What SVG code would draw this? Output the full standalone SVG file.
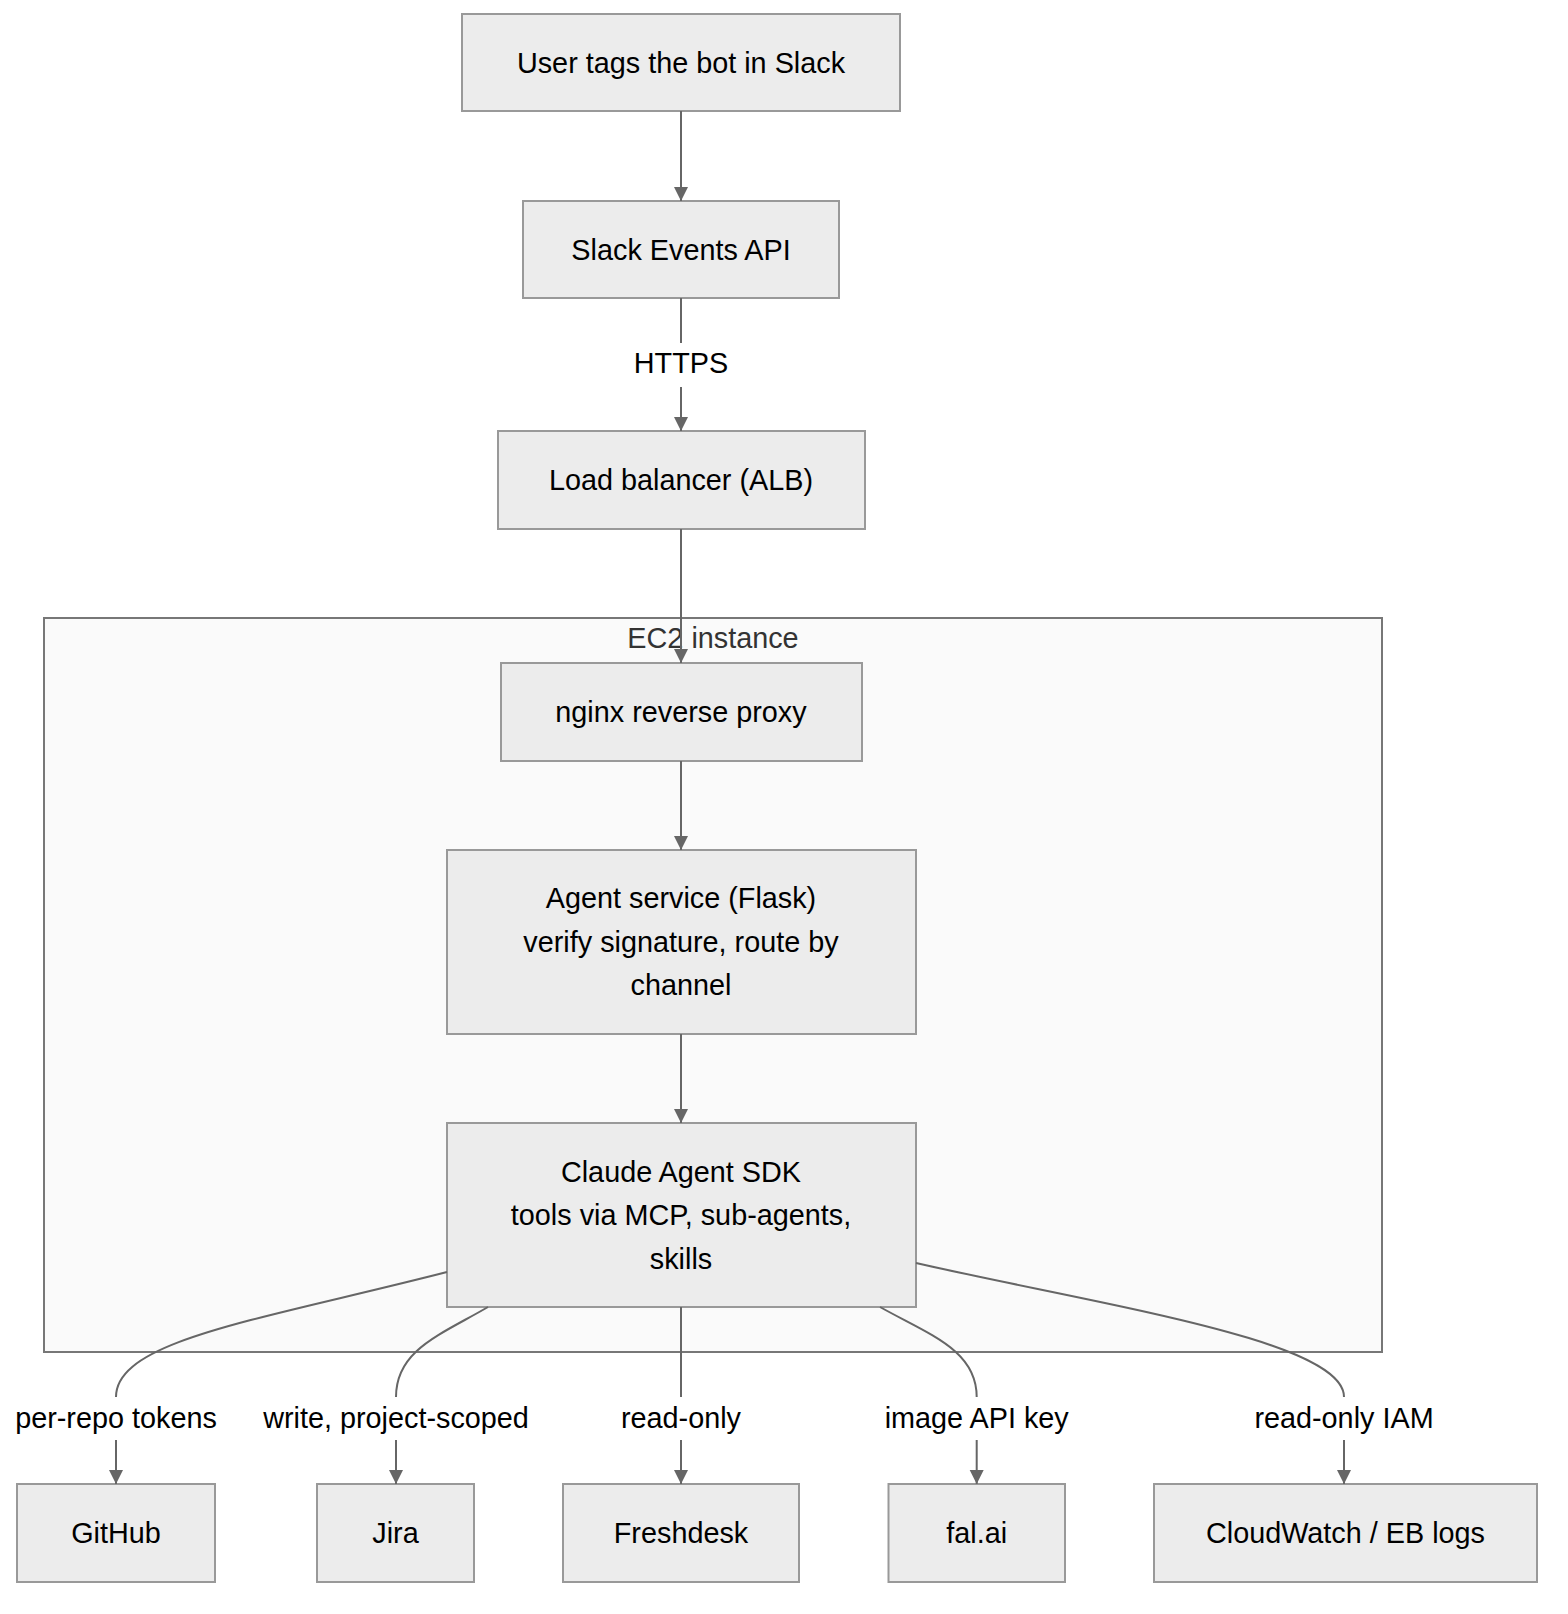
<svg xmlns="http://www.w3.org/2000/svg" width="1568" height="1614" viewBox="0 0 1568 1614">
<style>
.node rect{fill:#ececec;stroke:#999;stroke-width:2}
.cluster rect{fill:#fafafa;stroke:#777;stroke-width:2}
text{font-family:"Liberation Sans",Arial,sans-serif;font-size:28.8px;fill:#000;text-anchor:middle}
.cl{fill:#333}
.edge{fill:none;stroke:#666;stroke-width:2}
.lbg{fill:#fff}
</style>
<defs>
<marker id="arr" viewBox="0 0 10 10" refX="10" refY="5" markerWidth="14" markerHeight="15" markerUnits="userSpaceOnUse" orient="auto">
<path d="M0,0 L10,5 L0,10 z" fill="#666"/>
</marker>
</defs>
<rect width="1568" height="1614" fill="#fff"/>
<g id="cluster-ec2" class="cluster">
<rect x="44" y="618" width="1338" height="734"/>
<text class="cl" x="713" y="638" dy="0.35em">EC2 instance</text>
</g>
<g id="n-user" class="node"><rect x="462" y="14" width="438" height="97"/><text x="681" y="62.5" dy="0.35em">User tags the bot in Slack</text></g>
<g id="n-slack" class="node"><rect x="523" y="201" width="316" height="97"/><text x="681" y="249.5" dy="0.35em">Slack Events API</text></g>
<g id="n-alb" class="node"><rect x="498" y="431" width="367" height="98"/><text x="681" y="480" dy="0.35em">Load balancer (ALB)</text></g>
<g id="n-nginx" class="node"><rect x="501" y="663" width="361" height="98"/><text x="681" y="712" dy="0.35em">nginx reverse proxy</text></g>
<g id="n-agent" class="node"><rect x="447" y="850" width="469" height="184"/>
<text x="681" y="898" dy="0.35em">Agent service (Flask)</text>
<text x="681" y="941.5" dy="0.35em">verify signature, route by</text>
<text x="681" y="985" dy="0.35em">channel</text></g>
<g id="n-claude" class="node"><rect x="447" y="1123" width="469" height="184"/>
<text x="681" y="1171.5" dy="0.35em">Claude Agent SDK</text>
<text x="681" y="1215" dy="0.35em">tools via MCP, sub-agents,</text>
<text x="681" y="1258.5" dy="0.35em">skills</text></g>
<g id="n-github" class="node"><rect x="17" y="1484" width="198" height="98"/><text x="116" y="1533" dy="0.35em">GitHub</text></g>
<g id="n-jira" class="node"><rect x="317" y="1484" width="157" height="98"/><text x="395.5" y="1533" dy="0.35em">Jira</text></g>
<g id="n-freshdesk" class="node"><rect x="563" y="1484" width="236" height="98"/><text x="681" y="1533" dy="0.35em">Freshdesk</text></g>
<g id="n-fal" class="node"><rect x="888.5" y="1484" width="176.5" height="98"/><text x="976.7" y="1533" dy="0.35em">fal.ai</text></g>
<g id="n-cloudwatch" class="node"><rect x="1154" y="1484" width="383" height="98"/><text x="1345.5" y="1533" dy="0.35em">CloudWatch / EB logs</text></g>
<g id="connectors">
<path class="edge" d="M681,111 L681,201" marker-end="url(#arr)"/>
<path class="edge" d="M681,298 L681,431" marker-end="url(#arr)"/>
<path class="edge" d="M681,529 L681,663" marker-end="url(#arr)"/>
<path class="edge" d="M681,761 L681,850" marker-end="url(#arr)"/>
<path class="edge" d="M681,1034 L681,1123" marker-end="url(#arr)"/>
<path class="edge" d="M447,1272 C260,1320 116,1340 116,1397 L116,1484" marker-end="url(#arr)"/>
<path class="edge" d="M488,1307 C440,1335 396,1350 396,1397 L396,1484" marker-end="url(#arr)"/>
<path class="edge" d="M681,1307 L681,1484" marker-end="url(#arr)"/>
<path class="edge" d="M880,1307 C930,1335 976.7,1350 976.7,1397 L976.7,1484" marker-end="url(#arr)"/>
<path class="edge" d="M916,1263 C1100,1305 1344,1340 1344,1397 L1344,1484" marker-end="url(#arr)"/>
<g id="edge-labels">
<rect class="lbg" x="634" y="343" width="94" height="44"/><text x="681" y="363" dy="0.35em">HTTPS</text>
<rect class="lbg" x="14" y="1397" width="204" height="43"/><text x="116" y="1418" dy="0.35em">per-repo tokens</text>
<rect class="lbg" x="254" y="1397" width="284" height="43"/><text x="396" y="1418" dy="0.35em">write, project-scoped</text>
<rect class="lbg" x="619" y="1397" width="124" height="43"/><text x="681" y="1418" dy="0.35em">read-only</text>
<rect class="lbg" x="886" y="1397" width="182" height="43"/><text x="976.7" y="1418" dy="0.35em">image API key</text>
<rect class="lbg" x="1255" y="1397" width="178" height="43"/><text x="1344" y="1418" dy="0.35em">read-only IAM</text>
</g>
</g>
</svg>
